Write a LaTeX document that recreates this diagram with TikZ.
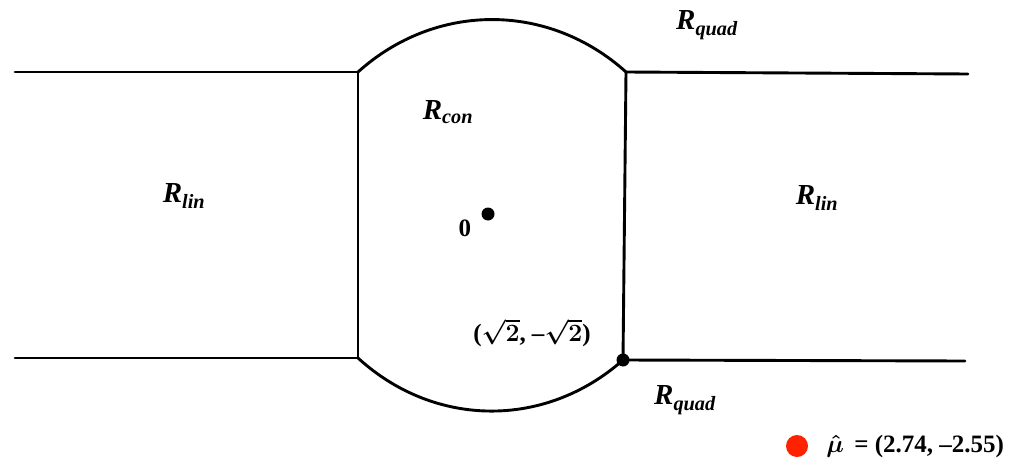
\documentclass[tikz,border=0pt]{standalone}
\usepackage{fontspec}
\setmainfont{Liberation Serif}
\usetikzlibrary{positioning}
\definecolor{mucol}{HTML}{FF2200}

\begin{document}
\begin{tikzpicture}[x=1pt,y=-1pt,
  bnd/.style={line width=2.9pt, line cap=round, line join=round},
  reg/.style={font=\fontsize{29}{30}\selectfont\bfseries\itshape, inner sep=0pt},
  lbl/.style={font=\fontsize{25}{26}\selectfont\bfseries\boldmath, inner sep=0pt},
  pt/.style={circle, fill=black, inner sep=0pt, minimum size=13pt}]
  \useasboundingbox (0,0) rectangle (1017,460);
  % corners of the central region
  \coordinate (tl) at (358,72);
  \coordinate (tr) at (626,72);
  \coordinate (bl) at (358,358);
  \coordinate (br) at (623,360);
  \coordinate (lt) at (15,72);
  \coordinate (lb) at (15,358);
  \coordinate (rt) at (968,74);
  \coordinate (rb) at (965,361);
  \draw[bnd] (lt) -- (tl) -- (bl) -- (lb);
  \draw[bnd] (rt) -- (tr) -- (br) -- (rb);
  \draw[bnd] (tl) to[bend left=42] (tr);
  \draw[bnd] (bl) to[bend right=42] (br);
  % points
  \node[pt] (orig) at (488,214) {};
  \node[lbl, below left=1pt and 12pt of orig] (olbl) {0};
  \node[pt] (corner) at (br) {};
  \node[lbl] (clbl) at (532,333) {($\sqrt{2}$, --$\sqrt{2}$)};
  % region labels
  \node[reg] (rlinl) at (184,196) {R\textsubscript{lin}};
  \node[reg] (rlinr) at (817,198) {R\textsubscript{lin}};
  \node[reg] (rcon) at (448,112) {R\textsubscript{con}};
  \node[reg] (rquadt) at (707,25) {R\textsubscript{quad}};
  \node[reg] (rquadb) at (685,400) {R\textsubscript{quad}};
  % estimate
  \node[circle, fill=mucol, inner sep=0pt, minimum size=22pt] (mu) at (797,446) {};
  \node[lbl, right=18pt of mu] (mulbl) {$\hat{\mu}$\, = (2.74, --2.55)};
\end{tikzpicture}
\end{document}
